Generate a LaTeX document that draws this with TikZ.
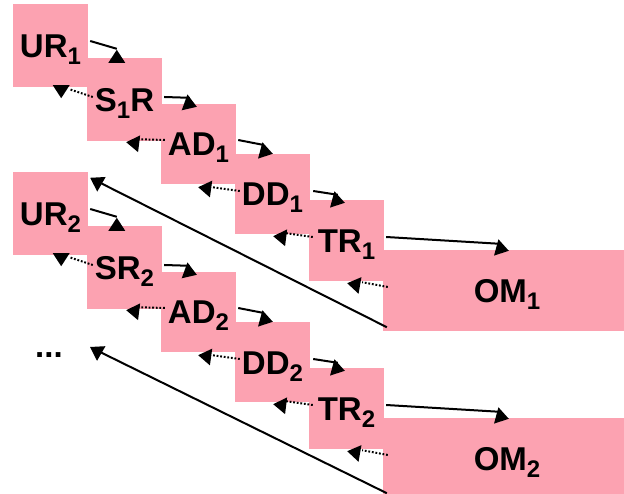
\documentclass[tikz,border=0pt]{standalone}
\usepackage{fontspec}
\setmainfont{Liberation Sans}
\usetikzlibrary{calc}
\definecolor{boxpink}{RGB}{252,162,177}
\newcommand\subs[1]{\raisebox{-7pt}{\fontsize{24}{24}\selectfont #1}}
\newcommand\tipat[2]{\fill (#1) ++(#2+213:15.5) -- (#1) -- ++(#2+147:15.5) -- cycle;}
% forward arrow: from #1 to #2, start offset (east), end offset (north west), apex offset, angle
\newcommand\fwdarrow[6]{%
  \draw[solidline] ($(#1.east)+(#3)$) -- ($(#2.north west)+(#4)$);
  \coordinate (tipc) at ($(#2.north west)+(#5)$); \tipat{tipc}{#6}}
% backward dotted arrow: from #1 (west) to #2 (south east)
\newcommand\bwdarrow[6]{%
  \draw[dotline] ($(#1.west)+(#3)$) -- ($(#2.south east)+(#4)$);
  \coordinate (tipc) at ($(#2.south east)+(#5)$); \tipat{tipc}{#6}}
\begin{document}
\begin{tikzpicture}[x=1pt,y=-1pt,
  box/.style={fill=boxpink, inner sep=0pt, text height=24pt, text depth=0pt,
    font=\fontsize{33}{33}\selectfont\bfseries},
  solidline/.style={line width=2pt},
  dotline/.style={line width=2pt, dash pattern=on 1.8pt off 1.8pt}]
\useasboundingbox (0,0) rectangle (624,494);
\foreach \g/\dy/\slabel in {1/0/{S\subs{1}R},2/168/{SR\subs{2}}}{
  \node[box, minimum width=75pt, minimum height=83pt] (UR\g) at (50.5,45.5+\dy) {UR\subs{\g}};
  \node[box, minimum width=75pt, minimum height=83pt] (SR\g) at (124.5,99.5+\dy) {\slabel};
  \node[box, minimum width=75pt, minimum height=80pt] (AD\g) at (198.5,144+\dy) {AD\subs{\g}};
  \node[box, minimum width=75pt, minimum height=80pt] (DD\g) at (272.5,194+\dy) {DD\subs{\g}};
  \node[box, minimum width=75pt, minimum height=81pt] (TR\g) at (346.5,240.5+\dy) {TR\subs{\g}};
  \node[box, minimum width=241pt, minimum height=81pt] (OM\g) at (503.5,290.5+\dy) {\hspace{7pt}OM\subs{\g}};
}
\foreach \g in {1,2}{
  \fwdarrow{UR\g}{SR\g}{2,-4.5}{30,-9}{30,-8}{270}
  \fwdarrow{SR\g}{AD\g}{2,-2.5}{29,-6}{36,3}{20}
  \fwdarrow{AD\g}{DD\g}{2,-4}{28,-9}{38,0}{15}
  \fwdarrow{DD\g}{TR\g}{3,-3}{29,-5}{36,3}{15}
  \fwdarrow{TR\g}{OM\g}{2,-3.5}{117,-6}{126,1}{15}
  \bwdarrow{SR\g}{UR\g}{6,-2.5}{-19,2}{-27,11}{90}
  \bwdarrow{AD\g}{SR\g}{4,-4}{-24,-2}{-36,1}{187}
  \bwdarrow{DD\g}{AD\g}{5,-3}{-24,3}{-38,3}{188}
  \bwdarrow{TR\g}{DD\g}{4,-3.5}{-24,-1}{-37,2}{187}
  \bwdarrow{OM\g}{TR\g}{5,-3.5}{-22,1}{-37,2}{190}
}
\node[font=\fontsize{33}{33}\selectfont\bfseries, anchor=base, inner sep=0pt] (dots) at (49,357) {...};
\coordinate (tipA) at ($(UR2.north east)+(2,6)$);
\draw[solidline] ($(OM1.south west)+(4,-4)$) -- ($(tipA)+(6,3)$);
\tipat{tipA}{210}
\coordinate (tipB) at ($(dots.base)+(41,-10)$);
\draw[solidline] ($(OM2.south west)+(4,-6)$) -- ($(tipB)+(6,3)$);
\tipat{tipB}{210}
\end{tikzpicture}
\end{document}
